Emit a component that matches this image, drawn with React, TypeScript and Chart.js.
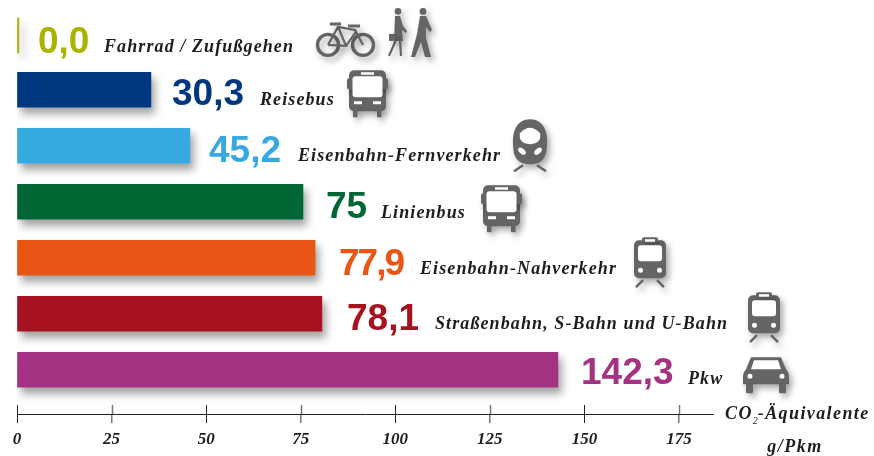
import React, { useEffect, useRef } from "react";
import { Chart, registerables } from "chart.js";

Chart.register(...registerables);

const categories = ["Fahrrad / Zufußgehen", "Reisebus", "Eisenbahn-Fernverkehr", "Linienbus", "Eisenbahn-Nahverkehr", "Straßenbahn, S-Bahn und U-Bahn", "Pkw"];
const valueLabels = ["0,0", "30,3", "45,2", "75", "77,9", "78,1", "142,3"];
const barValues = [0.5, 35.4, 45.7, 75.6, 78.8, 80.6, 143];
const rows = [0.03, 1, 2, 3, 4, 5, 6];
const colors = ["#a8b400", "#003781", "#36a9e1", "#006633", "#e95514", "#a6121f", "#a43282"];
const tickLabelsStep = 25;

// decoration layout, in pixels relative to the bar's end and row centre
const valueGap = [19, 21, 19, 23, 24, 25, 23];
const valueDy = [17.5, 15.5, 16, 16.5, 17, 16, 14.5];
const valueSpacing = [0, 0, 0, 0, -2, 0, 0];
const labelGap = [85, 109, 108, 78, 105, 113, 130];
const labelDy = [16.5, 15.5, 15.5, 16.5, 16.5, 15.5, 14.5];
const iconGap = [297, 196, 322, 178, 319, 426, 185];
const iconDy = [-13.5, -19.5, -26.5, -16.5, -20.5, -21.5, -12.5];
const iconKind = ["bike", "bus", "fern", "bus", "train", "train", "car"];

const GREY = "#646567";

function rr(c: any, x: number, y: number, w: number, h: number, r: number) {
  c.beginPath();
  c.roundRect(x, y, w, h, r);
}
function shadow(c: any) {
  c.shadowColor = "rgba(0,0,0,0.34)";
  c.shadowOffsetX = 3;
  c.shadowOffsetY = 4;
  c.shadowBlur = 6;
}
function noShadow(c: any) {
  c.shadowColor = "transparent";
}
function drawBus(c: any, x: number, y: number) {
  c.fillStyle = GREY;
  shadow(c);
  rr(c, x + 2, y, 37, 41, 5);
  c.fill();
  rr(c, x, y + 8, 41, 11, 2);
  c.fill();
  c.fillRect(x + 6, y + 38, 4.5, 9);
  c.fillRect(x + 30, y + 38, 4.5, 9);
  noShadow(c);
  c.fillStyle = "#fff";
  rr(c, x + 5.5, y + 6, 30, 21, 3);
  c.fill();
  c.fillRect(x + 14, y + 2, 13, 2.5);
  c.fillRect(x + 7, y + 31, 8, 3);
  c.fillRect(x + 26, y + 31, 8, 3);
}
function drawTrain(c: any, x: number, y: number) {
  c.fillStyle = GREY;
  shadow(c);
  rr(c, x, y + 3, 32, 38, 5);
  c.fill();
  rr(c, x + 8, y, 16, 5, 2);
  c.fill();
  c.strokeStyle = GREY;
  c.lineWidth = 2.5;
  c.beginPath();
  c.moveTo(x + 9, y + 43);
  c.lineTo(x + 2, y + 50);
  c.moveTo(x + 23, y + 43);
  c.lineTo(x + 30, y + 50);
  c.stroke();
  noShadow(c);
  c.fillStyle = "#fff";
  rr(c, x + 4, y + 8, 24, 16, 3);
  c.fill();
  c.fillRect(x + 11, y + 2, 10, 2.5);
  c.beginPath();
  c.arc(x + 6.5, y + 33, 2.5, 0, 7);
  c.arc(x + 25.5, y + 33, 2.5, 0, 7);
  c.fill();
}
function drawFern(c: any, x: number, y: number) {
  c.fillStyle = GREY;
  shadow(c);
  c.beginPath();
  c.moveTo(x + 2, y + 34);
  c.bezierCurveTo(x - 2, y + 12, x + 5, y, x + 18, y);
  c.bezierCurveTo(x + 31, y, x + 38, y + 12, x + 34, y + 34);
  c.quadraticCurveTo(x + 31, y + 45, x + 18, y + 45);
  c.quadraticCurveTo(x + 5, y + 45, x + 2, y + 34);
  c.fill();
  c.strokeStyle = GREY;
  c.lineWidth = 2.5;
  c.beginPath();
  c.moveTo(x + 11, y + 46);
  c.lineTo(x + 2, y + 52);
  c.moveTo(x + 25, y + 46);
  c.lineTo(x + 34, y + 52);
  c.stroke();
  noShadow(c);
  c.fillStyle = "#fff";
  c.beginPath();
  c.moveTo(x + 8, y + 14);
  c.quadraticCurveTo(x + 18, y + 3, x + 28, y + 14);
  c.quadraticCurveTo(x + 30, y + 24, x + 18, y + 25);
  c.quadraticCurveTo(x + 6, y + 24, x + 8, y + 14);
  c.fill();
  c.save();
  c.translate(x + 10, y + 32);
  c.rotate(0.7);
  c.beginPath();
  c.ellipse(0, 0, 4.5, 2.6, 0, 0, 7);
  c.fill();
  c.restore();
  c.save();
  c.translate(x + 26, y + 32);
  c.rotate(-0.7);
  c.beginPath();
  c.ellipse(0, 0, 4.5, 2.6, 0, 0, 7);
  c.fill();
  c.restore();
}
function drawCar(c: any, x: number, y: number) {
  c.fillStyle = GREY;
  shadow(c);
  c.beginPath();
  c.moveTo(x + 8, y);
  c.lineTo(x + 38, y);
  c.lineTo(x + 43, y + 12);
  c.quadraticCurveTo(x + 46, y + 15, x + 46, y + 20);
  c.lineTo(x + 46, y + 27);
  c.lineTo(x, y + 27);
  c.lineTo(x, y + 20);
  c.quadraticCurveTo(x, y + 15, x + 3, y + 12);
  c.closePath();
  c.fill();
  rr(c, x + 3, y + 25, 7, 11, 1.5);
  c.fill();
  rr(c, x + 36, y + 25, 7, 11, 1.5);
  c.fill();
  noShadow(c);
  c.fillStyle = "#fff";
  c.beginPath();
  c.moveTo(x + 11, y + 3);
  c.lineTo(x + 35, y + 3);
  c.lineTo(x + 38, y + 12);
  c.lineTo(x + 8, y + 12);
  c.closePath();
  c.fill();
  c.beginPath();
  c.arc(x + 7, y + 19, 2.5, 0, 7);
  c.arc(x + 39, y + 19, 2.5, 0, 7);
  c.fill();
}
function drawWoman(c: any, x: number, y: number) {
  c.fillStyle = GREY;
  c.strokeStyle = GREY;
  c.beginPath();
  c.arc(x + 10, y + 3.5, 3.3, 0, 7);
  c.fill();
  c.beginPath();
  c.moveTo(x + 7, y + 8);
  c.lineTo(x + 12, y + 8);
  c.lineTo(x + 15, y + 18);
  c.lineTo(x + 19, y + 23);
  c.lineTo(x + 18, y + 25);
  c.lineTo(x + 14, y + 22);
  c.lineTo(x + 15, y + 33);
  c.lineTo(x + 6, y + 33);
  c.closePath();
  c.fill();
  c.lineWidth = 2.2;
  c.beginPath();
  c.moveTo(x + 8, y + 32);
  c.lineTo(x + 1, y + 48);
  c.moveTo(x + 12, y + 32);
  c.lineTo(x + 13, y + 48);
  c.stroke();
  c.fillRect(x + 1, y + 26, 6, 7);
}
function drawMan(c: any, x: number, y: number) {
  c.fillStyle = GREY;
  c.beginPath();
  c.arc(x + 12, y + 3.5, 3.4, 0, 7);
  c.fill();
  c.beginPath();
  c.moveTo(x + 9, y + 8);
  c.lineTo(x + 15, y + 8);
  c.lineTo(x + 21, y + 22);
  c.lineTo(x + 19, y + 24);
  c.lineTo(x + 15, y + 19);
  c.lineTo(x + 15, y + 30);
  c.lineTo(x + 20, y + 49);
  c.lineTo(x + 14, y + 49);
  c.lineTo(x + 10, y + 34);
  c.lineTo(x + 4, y + 49);
  c.lineTo(x, y + 49);
  c.lineTo(x + 6, y + 26);
  c.closePath();
  c.fill();
}
function drawBike(c: any, x: number, y: number) {
  c.strokeStyle = GREY;
  c.fillStyle = GREY;
  shadow(c);
  c.lineWidth = 3.4;
  c.beginPath();
  c.arc(x + 12, y + 23, 10.5, 0, 7);
  c.stroke();
  c.beginPath();
  c.arc(x + 47, y + 23, 10.5, 0, 7);
  c.stroke();
  c.lineWidth = 2.2;
  c.beginPath();
  c.moveTo(x + 12, y + 23);
  c.lineTo(x + 22, y + 5);
  c.lineTo(x + 39, y + 8);
  c.lineTo(x + 47, y + 23);
  c.moveTo(x + 12, y + 23);
  c.lineTo(x + 30, y + 24);
  c.lineTo(x + 22, y + 5);
  c.moveTo(x + 30, y + 24);
  c.lineTo(x + 40, y + 10);
  c.stroke();
  c.lineWidth = 3;
  c.beginPath();
  c.moveTo(x + 14, y + 2);
  c.lineTo(x + 25, y + 2);
  c.moveTo(x + 32, y + 4);
  c.lineTo(x + 44, y + 4);
  c.stroke();
  noShadow(c);
}

const decorations = {
  id: "decorations",
  beforeDatasetsDraw(chart: any) {
    const c = chart.ctx;
    c.save();
    c.shadowColor = "rgba(0,0,0,0.36)";
    c.shadowOffsetX = 4;
    c.shadowOffsetY = 6;
    c.shadowBlur = 8;
  },
  afterDatasetsDraw(chart: any) {
    chart.ctx.restore();
  },
  afterDraw(chart: any) {
    const c = chart.ctx;
    const x = chart.scales.x;
    const y = chart.scales.y;
    c.save();
    // upper half of each axis tick
    x.ticks.forEach((t: any, i: number) => {
      const px = Math.round(x.getPixelForValue(t.value)) + 0.5;
      c.strokeStyle = i % 2 ? "#777" : "#222";
      c.lineWidth = i % 2 ? 1.5 : 1;
      c.beginPath();
      c.moveTo(px, y.bottom - 9);
      c.lineTo(px, y.bottom);
      c.stroke();
    });
    c.textBaseline = "alphabetic";
    c.textAlign = "left";
    categories.forEach((label, i) => {
      const end = Math.round(x.getPixelForValue(barValues[i]));
      const mid = y.getPixelForValue(rows[i]);
      c.font = "bold 37px 'Liberation Sans'";
      c.fillStyle = colors[i];
      c.letterSpacing = valueSpacing[i] + "px";
      c.fillText(valueLabels[i], end + valueGap[i], mid + valueDy[i]);
      c.font = "italic bold 18px 'Liberation Serif'";
      c.fillStyle = "#1d1d1b";
      c.letterSpacing = "1.1px";
      c.fillText(label, end + labelGap[i], mid + labelDy[i]);
      c.letterSpacing = "0px";
      const ix = end + iconGap[i];
      const iy = mid + iconDy[i];
      const k = iconKind[i];
      if (k === "bike") {
        drawBike(c, ix, iy);
        shadow(c);
        drawWoman(c, ix + 72, iy - 14);
        drawMan(c, ix + 95, iy - 14);
        noShadow(c);
      } else if (k === "bus") drawBus(c, ix, iy);
      else if (k === "train") drawTrain(c, ix, iy);
      else if (k === "fern") drawFern(c, ix, iy);
      else drawCar(c, ix, iy);
    });
    c.fillStyle = "#1d1d1b";
    c.font = "italic bold 18px 'Liberation Serif'";
    c.letterSpacing = "1.4px";
    const base = y.bottom + 5;
    c.fillText("CO", 725, base);
    const w = c.measureText("CO").width;
    c.font = "italic 10px 'Liberation Serif'";
    c.letterSpacing = "0px";
    c.fillText("2", 725 + w, base + 5);
    c.font = "italic bold 18px 'Liberation Serif'";
    c.letterSpacing = "1.4px";
    c.fillText("-Äquivalente", 725 + w + 5, base);
    c.textAlign = "center";
    c.letterSpacing = "1.5px";
    c.fillText("g/Pkm", 795, y.bottom + 38);
    c.restore();
  },
};

export default function App() {
  const ref = useRef<HTMLCanvasElement>(null);
  useEffect(() => {
    const chart = new Chart(ref.current!, {
      type: "bar",
      data: {
        datasets: [
          {
            data: barValues.map((v, i) => ({ x: v, y: rows[i] })),
            backgroundColor: colors,
            barThickness: 35,
          },
        ],
      },
      options: {
        indexAxis: "y",
        animation: false,
        responsive: false,
        layout: { padding: { left: 17, right: 161, top: 5, bottom: 0 } },
        plugins: { legend: { display: false }, tooltip: { enabled: false } },
        scales: {
          x: {
            type: "linear",
            min: 0,
            max: 184,
            afterFit: (s: any) => {
              s.height = 42;
            },
            border: { display: true, color: "#222", width: 1 },
            grid: {
              drawOnChartArea: false,
              drawTicks: true,
              tickLength: 9,
              color: (ctx: any) => (ctx.index % 2 ? "#777" : "#222"),
              lineWidth: (ctx: any) => (ctx.index % 2 ? 1.5 : 1),
            },
            ticks: {
              stepSize: tickLabelsStep,
              includeBounds: false,
              maxRotation: 0,
              autoSkip: false,
              padding: 6,
              color: "#1d1d1b",
              font: { family: "'Liberation Serif'", style: "italic", weight: "bold", size: 17 },
            },
          },
          y: {
            type: "linear",
            reverse: true,
            min: -0.513,
            max: 6.791,
            offset: false,
            display: false,
          },
        },
      },
      plugins: [decorations],
    } as any);
    return () => chart.destroy();
  }, []);
  return <canvas ref={ref} width={874} height={456} style={{ position: "fixed", left: 0, top: 0, width: 874, height: 456 }} />;
}
